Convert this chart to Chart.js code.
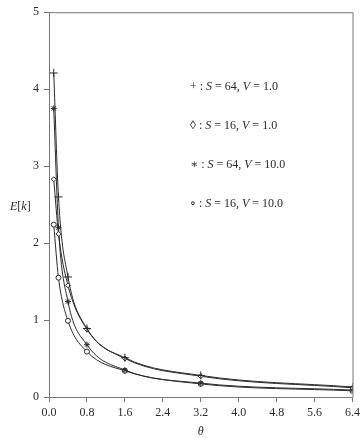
<!DOCTYPE html>
<html>
<head>
<meta charset="utf-8">
<script src="https://cdn.jsdelivr.net/npm/chart.js@4"></script>
<style>
  html, body { margin: 0; padding: 0; background: #fff; }
  #wrap { width: 364px; height: 438px; }
</style>
</head>
<body>
<div id="wrap"><canvas id="myChart" width="364" height="438"></canvas></div>
<script>
const thetas = [0.1, 0.2, 0.4, 0.8, 1.6, 3.2, 6.4];
const xTicks = [0.0, 0.8, 1.6, 2.4, 3.2, 4.0, 4.8, 5.6, 6.4];

// E[k] per theta
const s64v1 = [4.21, 2.60, 1.56, 0.89, 0.51, 0.28, 0.13];
const s16v1 = [2.83, 2.12, 1.45, 0.88, 0.50, 0.27, 0.12];
const s64v10 = [3.75, 2.20, 1.24, 0.68, 0.35, 0.18, 0.09];
const s16v10 = [2.24, 1.55, 0.99, 0.59, 0.34, 0.17, 0.08];

const legendRows = [
    { sym: '+', s: '64', v: '1.0' },
    { sym: '\u25CA', s: '16', v: '1.0' },
    { sym: '\u2217', s: '64', v: '10.0' },
    { sym: '\u2218', s: '16', v: '10.0' }
];

const serif = '"Liberation Serif", "DejaVu Serif", serif';
const ink = '#2a2a2a';
const axisGrey = '#777';

const toPoints = (vals) => thetas.map((t, i) => ({ x: t, y: vals[i] }));

const makeSet = (vals, style, radius, fill) => ({
    data: toPoints(vals),
    borderColor: ink,
    borderWidth: 1,
    pointStyle: style,
    pointRadius: radius,
    pointBorderColor: ink,
    pointBorderWidth: 1,
    pointBackgroundColor: fill,
    cubicInterpolationMode: 'monotone',
    fill: false
});

const frame = {
    id: 'frame',
    afterDraw(chart) {
        const ctx = chart.ctx;
        const a = chart.chartArea;
        ctx.save();
        ctx.strokeStyle = axisGrey;
        ctx.lineWidth = 1;
        ctx.beginPath();
        ctx.moveTo(a.left, a.top + 0.5);
        ctx.lineTo(a.right + 0.5, a.top + 0.5);
        ctx.lineTo(a.right + 0.5, a.bottom);
        ctx.stroke();

        // axis titles
        ctx.fillStyle = ink;
        ctx.textBaseline = 'middle';
        ctx.textAlign = 'center';
        ctx.font = 'italic 12px ' + serif;
        ctx.fillText('\u03B8', (a.left + a.right) / 2, 432);
        ctx.textAlign = 'left';
        const tx = 10, ty = 207;
        ctx.fillText('E', tx, ty);
        let w = ctx.measureText('E').width;
        ctx.font = '12px ' + serif;
        ctx.fillText('[', tx + w, ty);
        w += ctx.measureText('[').width;
        ctx.font = 'italic 12px ' + serif;
        ctx.fillText('k', tx + w, ty);
        w += ctx.measureText('k').width;
        ctx.font = '12px ' + serif;
        ctx.fillText(']', tx + w, ty);

        // legend text
        const ys = [87, 126, 165, 204];
        legendRows.forEach((r, i) => {
            let x = 190;
            const y = ys[i];
            const parts = [
                [r.sym + ' : ', false],
                ['S', true], [' = ' + r.s + ', ', false],
                ['V', true], [' = ' + r.v, false]
            ];
            parts.forEach(([txt, it]) => {
                ctx.font = (it ? 'italic ' : '') + '12px ' + serif;
                ctx.fillText(txt, x, y);
                x += ctx.measureText(txt).width;
            });
        });
        ctx.restore();
    }
};

const config = {
    type: 'line',
    data: {
        datasets: [
            makeSet(s64v1, 'cross', 4, ink),
            makeSet(s16v1, 'rectRot', 2.5, '#fff'),
            makeSet(s64v10, 'star', 3, ink),
            makeSet(s16v10, 'circle', 2.5, '#fff')
        ]
    },
    options: {
        responsive: false,
        animation: false,
        layout: { padding: { top: 10, right: 10, left: 0, bottom: 0 } },
        plugins: {
            legend: { display: false },
            tooltip: { enabled: false }
        },
        scales: {
            x: {
                type: 'linear',
                min: 0,
                max: 6.4,
                afterBuildTicks: (scale) => { scale.ticks = xTicks.map(v => ({ value: v })); },
                afterFit: (scale) => { scale.height = 41; },
                border: { display: true, color: axisGrey, width: 1 },
                grid: { drawOnChartArea: false, drawTicks: true, tickLength: 5, color: axisGrey },
                ticks: {
                    color: ink,
                    font: { family: serif, size: 12 },
                    padding: 4,
                    maxRotation: 0,
                    callback: (v) => Number(v).toFixed(1)
                }
            },
            y: {
                min: 0,
                max: 5,
                afterFit: (scale) => { scale.width = 49; },
                border: { display: true, color: axisGrey, width: 1 },
                grid: { drawOnChartArea: false, drawTicks: true, tickLength: 5, color: axisGrey },
                ticks: {
                    stepSize: 1,
                    color: ink,
                    font: { family: serif, size: 12 },
                    padding: 5
                }
            }
        }
    },
    plugins: [frame]
};

const myChart = new Chart(document.getElementById('myChart'), config);
</script>
</body>
</html>
